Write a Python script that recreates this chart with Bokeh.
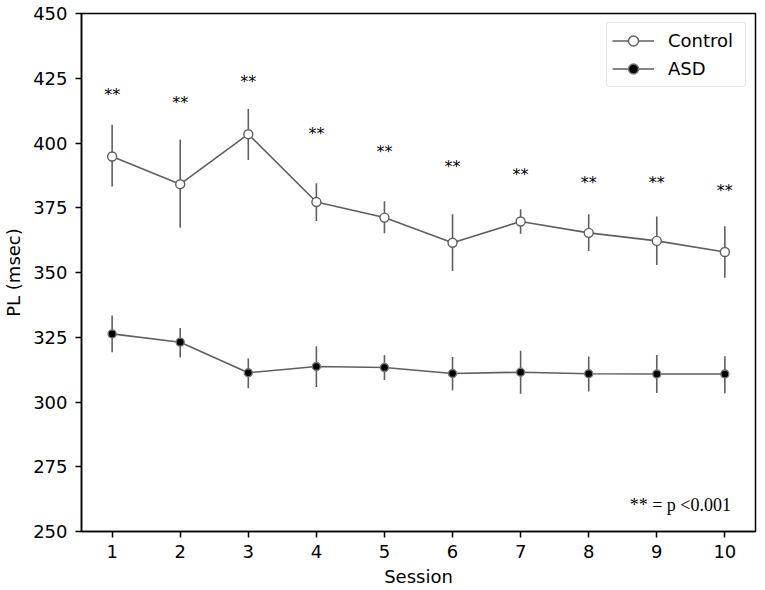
import math
from bokeh.plotting import figure
from bokeh.models import ColumnDataSource, Legend, LegendItem, Label, FixedTicker, Range1d
from bokeh.core.properties import value
from bokeh.embed import file_html
from bokeh.resources import INLINE

sessions = [1, 2, 3, 4, 5, 6, 7, 8, 9, 10]
control_mean = [394.8, 384.1, 403.4, 377.2, 371.2, 361.5, 369.7, 365.3, 362.2, 357.9]
control_hi = [407.0, 401.3, 413.1, 384.5, 377.5, 372.5, 374.4, 372.5, 371.6, 367.9]
control_lo = [383.2, 367.3, 393.4, 369.9, 365.2, 350.6, 365.0, 358.3, 352.9, 348.0]
asd_mean = [326.3, 323.1, 311.3, 313.7, 313.3, 311.0, 311.5, 310.9, 310.8, 310.8]
asd_hi = [333.4, 328.6, 316.8, 321.5, 318.1, 317.4, 319.8, 317.6, 318.1, 317.7]
asd_lo = [319.2, 317.2, 305.3, 305.8, 308.5, 304.5, 303.2, 304.1, 303.5, 303.4]
star_y = [420.0, 416.7, 425.0, 404.7, 398.0, 392.0, 389.0, 385.8, 385.8, 382.7]
star_text = ["**"] * 10
y_ticks = [250, 275, 300, 325, 350, 375, 400, 425, 450]

LINE = "#5f5f5f"
FONT = "DejaVu Sans"

p = figure(width=765, height=590, output_backend="svg", toolbar_location=None,
           x_range=Range1d(0.55, 10.45), y_range=Range1d(250, 450),
           min_border_left=81, min_border_top=13, min_border_right=10, min_border_bottom=59)
p.grid.visible = False
p.outline_line_color = "black"
p.outline_line_width = 1.5
p.background_fill_color = "white"
p.border_fill_color = "white"

for ax in (p.xaxis[0], p.yaxis[0]):
    ax.axis_line_color = "black"
    ax.axis_line_width = 1.5
    ax.major_tick_line_color = "black"
    ax.major_tick_line_width = 1.5
    ax.major_tick_out = 6
    ax.major_tick_in = 0
    ax.minor_tick_line_color = None
    ax.major_label_text_font = FONT
    ax.major_label_text_font_size = "18px"
    ax.major_label_text_color = "black"
    ax.axis_label_text_font = FONT
    ax.axis_label_text_font_size = "18px"
    ax.axis_label_text_font_style = "normal"
    ax.axis_label_text_color = "black"

p.xaxis[0].ticker = FixedTicker(ticks=sessions)
p.yaxis[0].ticker = FixedTicker(ticks=y_ticks)
p.xaxis[0].axis_label = "Session"
p.yaxis[0].axis_label = "PL (msec)"
p.xaxis[0].major_label_standoff = 7
p.yaxis[0].major_label_standoff = 8
p.xaxis[0].axis_label_standoff = 5
p.yaxis[0].axis_label_standoff = 6

src = ColumnDataSource(dict(x=sessions, cm=control_mean, chi=control_hi, clo=control_lo,
                            am=asd_mean, ahi=asd_hi, alo=asd_lo, sy=star_y, st=star_text))

c_err = p.segment(x0="x", y0="clo", x1="x", y1="chi", source=src, line_color=LINE, line_width=1.6)
c_line = p.line(x="x", y="cm", source=src, line_color=LINE, line_width=1.6)
c_pts = p.scatter(x="x", y="cm", source=src, size=9, marker="circle",
                  fill_color="white", line_color=LINE, line_width=1.4)

a_err = p.segment(x0="x", y0="alo", x1="x", y1="ahi", source=src, line_color=LINE, line_width=1.6)
a_line = p.line(x="x", y="am", source=src, line_color=LINE, line_width=1.6)
a_pts = p.scatter(x="x", y="am", source=src, size=8, marker="circle",
                  fill_color="black", line_color="#777777", line_width=1.4)

# legend-only vertical error tick (no data drawn in the plot)
leg_tick = p.scatter(x=[], y=[], marker="dash", angle=math.pi / 2, size=16,
                     line_color=LINE, line_width=1.6)

p.text(x="x", y="sy", text="st", source=src, text_align="center", text_baseline="middle",
       y_offset=3, text_font=value(FONT), text_font_size="16px", text_color="black")

note = Label(x=10.09, y=260.4, text="** = p <0.001", text_align="right",
             text_baseline="alphabetic", text_font="Liberation Serif",
             text_font_size="18px", text_color="black")
p.add_layout(note)

legend = Legend(items=[LegendItem(label="Control", renderers=[c_line, leg_tick, c_pts]),
                       LegendItem(label="ASD", renderers=[a_line, leg_tick, a_pts])],
                location="top_right")
legend.label_text_font = FONT
legend.label_text_font_size = "18px"
legend.label_text_color = "black"
legend.border_line_color = "#cccccc"
legend.border_line_width = 1
legend.border_radius = 3
legend.margin = 9
legend.padding = 5
legend.spacing = 3
legend.glyph_width = 42
legend.glyph_height = 25
legend.label_height = 25
legend.label_width = 72
legend.label_standoff = 14
legend.background_fill_alpha = 1.0
p.add_layout(legend)

open("out.html", "w").write(file_html(p, INLINE))
